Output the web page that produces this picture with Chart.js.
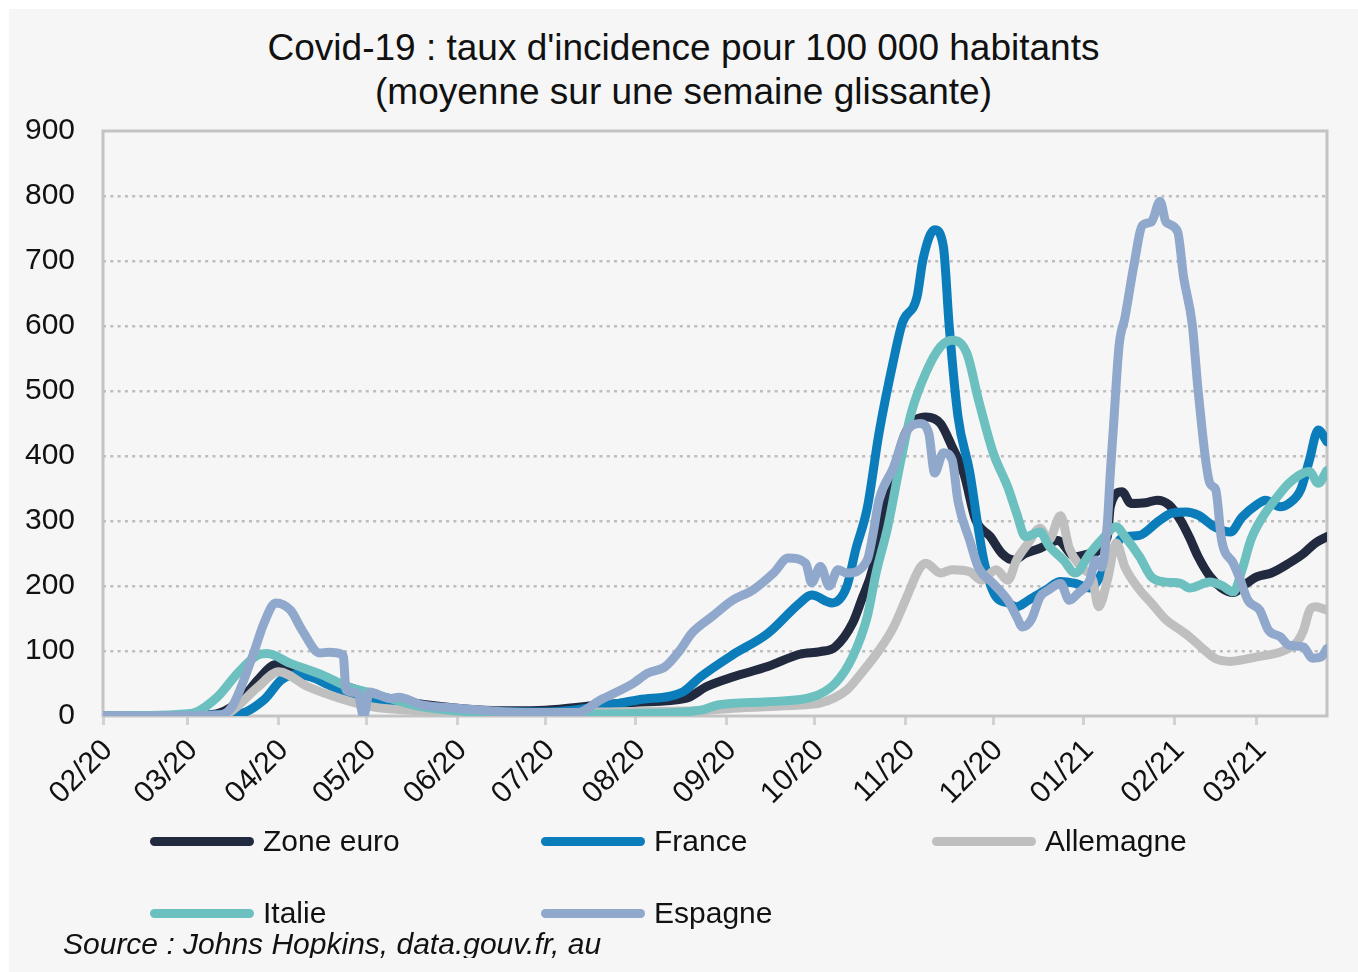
<!DOCTYPE html>
<html lang="fr">
<head>
<meta charset="utf-8">
<title>Covid-19 : taux d'incidence pour 100 000 habitants</title>
<script src="https://cdn.jsdelivr.net/npm/chart.js@4.4.1/dist/chart.umd.min.js"></script>
<style>
  html, body { margin: 0; padding: 0; background: #ffffff; }
  body { width: 1358px; height: 972px; position: relative; overflow: hidden;
         font-family: "Liberation Sans", Arial, Helvetica, sans-serif; }
  #panel { position: absolute; left: 9px; top: 9px; width: 1349px; height: 963px; background: #f6f6f6; }
  #chart { position: absolute; left: 0; top: 0; }
  #title { position: absolute; left: 9px; width: 1349px; top: 26px; text-align: center;
           font-size: 37px; line-height: 44px; color: #111; }
  .leg { position: absolute; height: 40px; display: flex; align-items: center; color: #111;
         font-size: 30px; white-space: nowrap; }
  .leg .swatch { width: 104px; height: 9px; border-radius: 5px; margin-right: 9px; }
  #source { position: absolute; left: 63px; top: 926px; height: 32px; overflow: hidden;
            font-size: 30px; font-style: italic; line-height: 36px; color: #111; white-space: nowrap; }
</style>
</head>
<body>
<div id="panel"></div>
<div id="title">Covid-19 : taux d'incidence pour 100 000 habitants<br>(moyenne sur une semaine glissante)</div>
<canvas id="chart" width="1358" height="972"></canvas>
<div id="legend"></div>
<div id="source">Source : Johns Hopkins, data.gouv.fr, au</div>
<script>
// Monthly tick labels (MM/YY) along the date axis
const monthLabels = ['02/20','03/20','04/20','05/20','06/20','07/20','08/20','09/20',
                     '10/20','11/20','12/20','01/21','02/21','03/21'];
const lastDate = '2021-03-25';

// Incidence for 100 000 inhabitants, 7-day rolling mean: [date, value]
const zoneEuro = [
  ['2020-02-01',0],['2020-03-05',1],['2020-03-12',5],['2020-03-19',25],['2020-03-25',56],
  ['2020-03-30',78],['2020-04-02',80],['2020-04-05',74],['2020-04-16',58],['2020-04-28',40],
  ['2020-05-12',24],['2020-06-01',12],['2020-06-19',8],['2020-07-01',9],['2020-07-20',17],
  ['2020-08-01',21],['2020-08-18',27],['2020-08-25',45],['2020-09-03',60],['2020-09-15',76],
  ['2020-09-26',95],['2020-10-03',99],['2020-10-08',106],['2020-10-14',143],['2020-10-17',178],
  ['2020-10-21',229],['2020-10-24',306],['2020-10-28',374],['2020-11-01',435],['2020-11-08',460],
  ['2020-11-13',450],['2020-11-17',414],['2020-11-21',373],['2020-11-25',302],['2020-11-30',276],
  ['2020-12-04',250],['2020-12-08',240],['2020-12-12',250],['2020-12-17',258],['2020-12-23',270],
  ['2020-12-29',245],['2021-01-03',250],['2021-01-09',276],['2021-01-10',322],['2021-01-14',345],
  ['2021-01-17',327],['2021-01-22',328],['2021-01-26',332],['2021-01-30',325],['2021-02-03',301],
  ['2021-02-06',275],['2021-02-09',245],['2021-02-13',215],['2021-02-17',197],['2021-02-21',190],
  ['2021-02-24',199],['2021-03-01',214],['2021-03-06',220],['2021-03-12',235],['2021-03-17',250],
  ['2021-03-21',266],['2021-03-25',276]
];
const france = [
  ['2020-02-01',0],['2020-03-18',3],['2020-03-27',25],['2020-04-02',56],['2020-04-07',64],
  ['2020-04-12',60],['2020-04-18',48],['2020-04-28',30],['2020-05-12',16],['2020-06-01',8],
  ['2020-07-01',6],['2020-07-20',15],['2020-08-02',25],['2020-08-17',37],['2020-08-23',60],
  ['2020-09-03',94],['2020-09-15',127],['2020-09-26',174],['2020-09-30',186],['2020-10-07',174],
  ['2020-10-12',199],['2020-10-15',255],['2020-10-19',320],['2020-10-23',435],['2020-10-28',548],
  ['2020-10-31',605],['2020-11-05',645],['2020-11-07',702],['2020-11-11',748],['2020-11-14',722],
  ['2020-11-16',599],['2020-11-19',460],['2020-11-23',375],['2020-11-26',286],['2020-11-28',235],
  ['2020-12-02',183],['2020-12-06',174],['2020-12-09',168],['2020-12-13',178],['2020-12-19',194],
  ['2020-12-24',207],['2020-12-29',204],['2021-01-03',197],['2021-01-09',235],['2021-01-14',274],
  ['2021-01-20',278],['2021-01-26',298],['2021-01-31',312],['2021-02-05',314],['2021-02-09',309],
  ['2021-02-15',290],['2021-02-20',283],['2021-02-24',306],['2021-03-01',325],['2021-03-04',332],
  ['2021-03-09',322],['2021-03-12',327],['2021-03-16',348],['2021-03-19',394],['2021-03-22',440],
  ['2021-03-25',422]
];
const allemagne = [
  ['2020-02-01',0],['2020-03-10',1],['2020-03-15',5],['2020-03-25',45],['2020-04-01',68],
  ['2020-04-11',45],['2020-04-22',27],['2020-05-03',14],['2020-05-19',8],['2020-06-01',5],
  ['2020-07-01',5],['2020-08-01',7],['2020-08-23',8],['2020-09-03',12],['2020-09-26',17],
  ['2020-10-03',20],['2020-10-12',40],['2020-10-17',66],['2020-10-23',101],['2020-10-28',137],
  ['2020-11-01',178],['2020-11-06',228],['2020-11-08',235],['2020-11-13',220],['2020-11-17',225],
  ['2020-11-23',222],['2020-11-27',209],['2020-12-02',225],['2020-12-06',209],['2020-12-09',240],
  ['2020-12-13',266],['2020-12-17',289],['2020-12-20',271],['2020-12-24',308],['2020-12-27',258],
  ['2020-12-31',229],['2021-01-04',209],['2021-01-06',168],['2021-01-09',209],['2021-01-12',266],
  ['2021-01-15',229],['2021-01-20',194],['2021-01-24',174],['2021-01-29',148],['2021-02-03',132],
  ['2021-02-06',122],['2021-02-10',106],['2021-02-15',88],['2021-02-20',84],['2021-03-01',91],
  ['2021-03-10',100],['2021-03-15',115],['2021-03-17',132],['2021-03-19',162],['2021-03-21',168],
  ['2021-03-25',163]
];
const italie = [
  ['2020-02-01',0],['2020-03-02',4],['2020-03-11',29],['2020-03-18',66],['2020-03-25',94],
  ['2020-03-28',96],['2020-04-05',81],['2020-04-16',63],['2020-04-24',46],['2020-05-03',35],
  ['2020-05-20',14],['2020-06-12',5],['2020-07-01',3],['2020-08-01',4],['2020-08-23',9],
  ['2020-08-29',17],['2020-09-15',22],['2020-09-30',29],['2020-10-08',50],['2020-10-14',91],
  ['2020-10-19',153],['2020-10-22',220],['2020-10-26',291],['2020-10-30',383],['2020-11-03',466],
  ['2020-11-08',528],['2020-11-13',568],['2020-11-17',578],['2020-11-22',558],['2020-11-26',486],
  ['2020-12-01',405],['2020-12-06',352],['2020-12-09',312],['2020-12-12',276],['2020-12-17',283],
  ['2020-12-20',262],['2020-12-25',240],['2020-12-29',220],['2021-01-03',250],['2021-01-07',271],
  ['2021-01-12',291],['2021-01-15',276],['2021-01-20',245],['2021-01-24',214],['2021-01-29',206],
  ['2021-02-03',204],['2021-02-06',197],['2021-02-13',206],['2021-02-17',201],['2021-02-21',191],
  ['2021-02-24',225],['2021-02-27',271],['2021-03-03',306],['2021-03-08',337],['2021-03-12',358],
  ['2021-03-17',374],['2021-03-19',376],['2021-03-22',358],['2021-03-25',378]
];
const espagne = [
  ['2020-02-01',0],['2020-03-11',1],['2020-03-16',14],['2020-03-23',91],['2020-03-27',143],
  ['2020-03-31',174],['2020-04-05',163],['2020-04-09',132],['2020-04-15',97],['2020-04-18',98],
  ['2020-04-23',94],['2020-04-24',40],['2020-04-28',35],['2020-04-30',0],['2020-05-02',37],
  ['2020-05-09',27],['2020-05-12',29],['2020-05-20',17],['2020-06-01',12],['2020-06-19',6],
  ['2020-07-12',5],['2020-07-20',25],['2020-07-31',50],['2020-08-05',66],['2020-08-11',76],
  ['2020-08-16',101],['2020-08-20',127],['2020-08-27',153],['2020-09-03',178],['2020-09-10',194],
  ['2020-09-17',220],['2020-09-22',243],['2020-09-28',235],['2020-09-30',205],['2020-10-03',230],
  ['2020-10-06',200],['2020-10-09',225],['2020-10-12',220],['2020-10-19',240],['2020-10-21',281],
  ['2020-10-23',332],['2020-10-28',383],['2020-11-01',435],['2020-11-06',450],['2020-11-09',435],
  ['2020-11-11',374],['2020-11-14',405],['2020-11-17',394],['2020-11-19',330],['2020-11-23',270],
  ['2020-11-26',228],['2020-12-01',204],['2020-12-06',178],['2020-12-09',153],['2020-12-11',137],
  ['2020-12-14',148],['2020-12-17',183],['2020-12-20',194],['2020-12-24',204],['2020-12-27',178],
  ['2020-12-30',189],['2021-01-03',209],['2021-01-05',240],['2021-01-07',229],['2021-01-09',297],
  ['2021-01-10',374],['2021-01-11',440],['2021-01-13',570],['2021-01-15',613],['2021-01-18',692],
  ['2021-01-21',755],['2021-01-24',760],['2021-01-27',792],['2021-01-29',760],['2021-02-02',745],
  ['2021-02-04',676],['2021-02-07',602],['2021-02-09',500],['2021-02-13',358],['2021-02-15',348],
  ['2021-02-17',271],['2021-02-21',235],['2021-02-23',214],['2021-02-26',178],['2021-03-02',163],
  ['2021-03-05',132],['2021-03-09',122],['2021-03-12',109],['2021-03-17',106],['2021-03-20',89],
  ['2021-03-23',91],['2021-03-25',104]
];

const seriesNames  = ['Zone euro', 'France', 'Allemagne', 'Italie', 'Espagne'];
const seriesData   = [zoneEuro, france, allemagne, italie, espagne];
const seriesColors = ['#222a40', '#0b7dbb', '#bfbfbf', '#6cc0c0', '#8fa8cb'];

const yTicks = [0, 100, 200, 300, 400, 500, 600, 700, 800, 900];

// Dates are placed on a day axis counted from 1 Feb 2020
const ORIGIN = Date.UTC(2020, 1, 1);
function dayOf(iso) {
  const [y, m, d] = iso.split('-').map(Number);
  return (Date.UTC(y, m - 1, d) - ORIGIN) / 86400000;
}
function monthDay(label) {
  const [m, y] = label.split('/').map(Number);
  return (Date.UTC(2000 + y, m - 1, 1) - ORIGIN) / 86400000;
}
const monthValues = monthLabels.map(monthDay);

const FONT = '"Liberation Sans", Arial, Helvetica, sans-serif';
const FRAME = '#c4c4c4';

// Plot frame on all four sides of the chart area
const framePlugin = {
  id: 'frame',
  beforeDatasetsDraw(chart) {
    const { ctx, chartArea: a } = chart;
    ctx.save();
    ctx.strokeStyle = FRAME;
    ctx.lineWidth = 3;
    ctx.strokeRect(a.left, a.top, a.right - a.left, a.bottom - a.top);
    ctx.restore();
  }
};

const datasets = seriesNames.map((name, i) => ({
  label: name,
  data: seriesData[i].map(([d, v]) => ({ x: dayOf(d), y: v })),
  borderColor: seriesColors[i],
  backgroundColor: seriesColors[i],
  borderWidth: 9,
  pointRadius: 0,
  borderCapStyle: 'round',
  borderJoinStyle: 'round',
  cubicInterpolationMode: 'monotone',
  fill: false,
  // later series are painted over earlier ones
  order: seriesNames.length - i
}));

new Chart(document.getElementById('chart'), {
  type: 'line',
  data: { datasets },
  options: {
    responsive: false,
    animation: false,
    devicePixelRatio: 1,
    layout: { padding: { left: 0, right: 31, top: 131, bottom: 0 } },
    plugins: {
      legend: { display: false },
      tooltip: { enabled: false },
      title: { display: false }
    },
    scales: {
      x: {
        type: 'linear',
        min: 0,
        max: dayOf(lastDate),
        afterBuildTicks(scale) { scale.ticks = monthValues.map(v => ({ value: v })); },
        afterFit(scale) { scale.height = 972 - 716; },
        grid: { drawOnChartArea: false, drawTicks: true, tickLength: 9,
                tickColor: '#d2d2d2', tickWidth: 3 },
        border: { display: false },
        ticks: {
          autoSkip: false,
          minRotation: 45,
          maxRotation: 45,
          padding: 8,
          labelOffset: 5,
          color: '#111',
          font: { family: FONT, size: 30 },
          callback: (v) => monthLabels[monthValues.indexOf(v)] ?? ''
        }
      },
      y: {
        min: 0,
        max: 900,
        afterBuildTicks(scale) { scale.ticks = yTicks.map(v => ({ value: v })); },
        afterFit(scale) { scale.width = 103; },
        grid: {
          drawTicks: false,
          lineWidth: 2.5,
          color: (c) => (c.tick && (c.tick.value === 0 || c.tick.value === 900)) ? 'rgba(0,0,0,0)' : '#bdbdbd'
        },
        border: { display: false, dash: [3, 4.3] },
        ticks: {
          padding: 28,
          color: '#111',
          font: { family: FONT, size: 30 }
        }
      }
    }
  },
  plugins: [framePlugin]
});

// Legend: two rows, three columns
const legend = document.getElementById('legend');
const legCols = [150, 541, 932];
const legRows = [821, 893];
seriesNames.forEach((name, i) => {
  const item = document.createElement('div');
  item.className = 'leg';
  item.style.left = legCols[i % 3] + 'px';
  item.style.top = legRows[Math.floor(i / 3)] + 'px';
  const sw = document.createElement('span');
  sw.className = 'swatch';
  sw.style.background = seriesColors[i];
  const tx = document.createElement('span');
  tx.textContent = name;
  item.appendChild(sw);
  item.appendChild(tx);
  legend.appendChild(item);
});
</script>
</body>
</html>
